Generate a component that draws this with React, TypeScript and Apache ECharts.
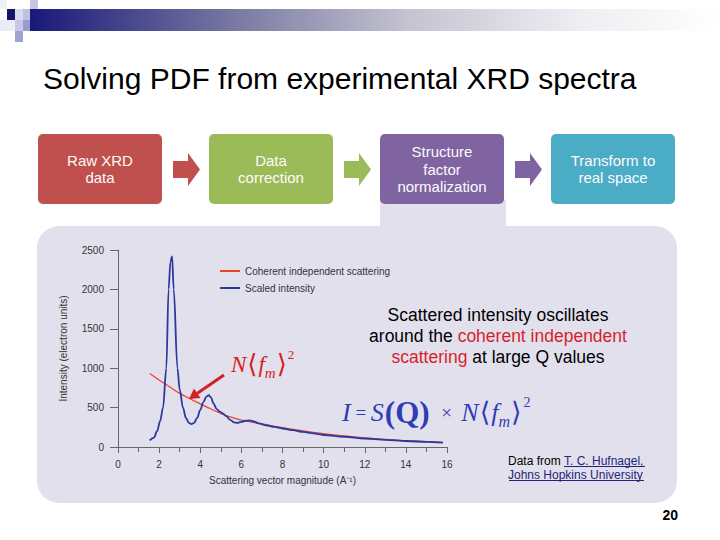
import React, { useEffect, useRef } from "react";
import * as echarts from "echarts";

// Scaled intensity (blue)
const qBlue = [1.54, 1.75, 1.9, 2.05, 2.19, 2.35, 2.46, 2.55, 2.63, 2.71, 2.89, 3.0, 3.16, 3.3, 3.45, 3.57, 3.7, 3.85, 4.0, 4.15, 4.3, 4.41, 4.52, 4.65, 4.8, 4.95, 5.1, 5.25, 5.45, 5.65, 5.8, 6.0, 6.2, 6.4, 6.6, 6.85, 7.2, 7.6, 8.0, 8.5, 9.0, 9.5, 10, 11, 12, 13, 14, 15, 15.8];
const vBlue = [85, 120, 200, 330, 500, 1000, 2000, 2350, 2420, 2000, 1000, 730, 500, 370, 305, 290, 305, 370, 470, 570, 640, 657, 630, 550, 480, 450, 425, 395, 345, 312, 305, 318, 333, 338, 325, 300, 276, 255, 235, 213, 192, 172, 152, 130, 108, 90, 76, 64, 56];

// Coherent independent scattering (red)
const qRed = [1.54, 2, 2.5, 3, 3.5, 4, 4.5, 5, 5.5, 6, 7, 8, 9, 10, 11, 12, 13, 14, 15, 15.8];
const vRed = [932, 850, 765, 680, 612, 548, 485, 425, 378, 342, 292, 245, 205, 170, 140, 115, 95, 80, 68, 58];

const seriesNames = ["Coherent independent scattering", "Scaled intensity"];
const steps = ["Raw XRD\ndata", "Data\ncorrection", "Structure\nfactor\nnormalization", "Transform to\nreal space"];
const stepColors = ["#c0504d", "#9bbb59", "#8064a2", "#4bacc6"];
const stepX = [38, 209, 380, 551];

const SANS = "Liberation Sans, Arial, sans-serif";
const SERIF = "Liberation Serif, Times New Roman, DejaVu Serif, serif";
const PANEL = "#e3e0ee";

export default function App() {
  const ref = useRef<HTMLDivElement>(null);
  useEffect(() => {
    if (!ref.current) return;
    const chart = echarts.init(ref.current, null, { renderer: "svg" });

    const g: any[] = [];
    // top decoration
    g.push({ type: "rect", shape: { x: 30, y: 9, width: 690, height: 22 }, style: { fill: new echarts.graphic.LinearGradient(0, 0, 1, 0, [
      { offset: 0, color: "#18187a" }, { offset: 0.3, color: "#7a7aa2" }, { offset: 0.55, color: "#c4c4d2" }, { offset: 0.8, color: "#eeeef3" }, { offset: 1, color: "#ffffff" }]) }, z: -5 });
    const sq = [
      [30, 0, 8, 9, "#c6c6e2"], [0, 0, 7, 9, "#f0f0f8"], [7, 9, 8, 11, "#15156e"], [15, 9, 8, 11, "#d8d8ee"],
      [0, 20, 15, 11, "#ececf6"], [23, 9, 7, 11, "#c0c0e0"], [23, 20, 7, 11, "#9a9acc"], [15, 20, 8, 11, "#c8c8e6"], [15, 31, 8, 11, "#a2a2d2"],
    ];
    sq.forEach((s: any) => g.push({ type: "rect", shape: { x: s[0], y: s[1], width: s[2], height: s[3] }, style: { fill: s[4] }, z: -4 }));
    // title
    g.push({ type: "text", x: 43, y: 78, style: { text: "Solving PDF from experimental XRD spectra", fontSize: 30, fontFamily: SANS, fill: "#000", verticalAlign: "middle", align: "left" } });
    // panel and tab
    g.push({ type: "rect", shape: { x: 37, y: 226, width: 640, height: 277, r: 22 }, style: { fill: PANEL }, z: -10 });
    g.push({ type: "rect", shape: { x: 380, y: 200, width: 126, height: 32 }, style: { fill: PANEL }, z: -10 });
    // boxes
    steps.forEach((t, i) => {
      g.push({ type: "rect", shape: { x: stepX[i], y: 134, width: 124, height: 70, r: 5 }, style: { fill: stepColors[i] }, z: -2 });
      g.push({ type: "text", x: stepX[i] + 62, y: 169, style: { text: t, fontSize: 15, lineHeight: 17.5, fontFamily: SANS, fill: "#fbfbfb", align: "center", verticalAlign: "middle" } });
    });
    // step arrows
    for (let i = 0; i < 3; i++) {
      const x0 = stepX[i] + 135, cy = 169.5;
      g.push({ type: "polygon", shape: { points: [[x0, cy - 8.5], [x0 + 15, cy - 8.5], [x0 + 15, cy - 16.5], [x0 + 27, cy], [x0 + 15, cy + 16.5], [x0 + 15, cy + 8.5], [x0, cy + 8.5]] }, style: { fill: stepColors[i] } });
    }
    // explanation text
    g.push({ type: "text", x: 498, y: 336, z: 10, style: {
      text: "Scattered intensity oscillates\naround the {r|coherent independent}\n{r|scattering} at large Q values",
      fontSize: 17.5, lineHeight: 21, fontFamily: SANS, fill: "#000", align: "center", verticalAlign: "middle",
      rich: { r: { fontSize: 17.5, lineHeight: 21, fontFamily: SANS, fill: "#d61f2b" } } } });
    // red formula
    g.push({ type: "text", x: 231, y: 364, z: 10, style: {
      text: "{i|N}{b|⟨}{i|f}{s|m}{b|⟩}{p|2}", fill: "#d42020", align: "left", verticalAlign: "middle",
      rich: {
        i: { fontFamily: SERIF, fontStyle: "italic", fontSize: 23, fill: "#d42020", verticalAlign: "middle", lineHeight: 32 },
        b: { fontFamily: SERIF, fontSize: 26, fill: "#d42020", verticalAlign: "middle", lineHeight: 32, padding: [0, 1, 0, 1] },
        s: { fontFamily: SERIF, fontStyle: "italic", fontSize: 15, fill: "#d42020", verticalAlign: "bottom", lineHeight: 18 },
        p: { fontFamily: SERIF, fontSize: 13, fill: "#d42020", verticalAlign: "top", lineHeight: 14 },
      } } });
    // blue formula
    g.push({ type: "text", x: 342, y: 412, z: 10, style: {
      text: "{i|I}{o| = }{i|S}{q|(Q)}{o|  ×  }{i|N}{b|⟨}{i|f}{s|m}{b|⟩}{p|2}", fill: "#2e3db5", align: "left", verticalAlign: "middle",
      rich: {
        i: { fontFamily: SERIF, fontStyle: "italic", fontSize: 26, fill: "#2e3db5", verticalAlign: "middle", lineHeight: 34 },
        o: { fontFamily: SERIF, fontSize: 19, fill: "#2e3db5", verticalAlign: "middle", lineHeight: 34 },
        q: { fontFamily: SERIF, fontWeight: "bold", fontSize: 31, fill: "#2e3db5", verticalAlign: "middle", lineHeight: 34, padding: [0, 2, 0, 1] },
        b: { fontFamily: SERIF, fontSize: 27, fill: "#2e3db5", verticalAlign: "middle", lineHeight: 34, padding: [0, 1, 0, 1] },
        s: { fontFamily: SERIF, fontStyle: "italic", fontSize: 16, fill: "#2e3db5", verticalAlign: "bottom", lineHeight: 20 },
        p: { fontFamily: SERIF, fontSize: 14, fill: "#2e3db5", verticalAlign: "top", lineHeight: 14, padding: [0, 0, 0, 1] },
      } } });
    // red annotation arrow
    g.push({ type: "line", shape: { x1: 224, y1: 375, x2: 197, y2: 393.5 }, style: { stroke: "#d42020", lineWidth: 3 }, z: 10 });
    g.push({ type: "polygon", shape: { points: [[189, 399], [200.5, 398], [194, 388.5]] }, style: { fill: "#d42020" }, z: 10 });
    // data source
    g.push({ type: "text", x: 508, y: 468, z: 10, style: {
      text: "Data from {l|T. C. Hufnagel,}\n{l|Johns Hopkins University}", fontSize: 12, lineHeight: 14, fontFamily: SANS, fill: "#000", align: "left", verticalAlign: "middle",
      rich: { l: { fontSize: 12, lineHeight: 14, fontFamily: SANS, fill: "#22237a" } } } });
    g.push({ type: "line", shape: { x1: 564, y1: 466.5, x2: 645, y2: 466.5 }, style: { stroke: "#22237a", lineWidth: 1 }, z: 10 });
    g.push({ type: "line", shape: { x1: 509, y1: 480.5, x2: 644, y2: 480.5 }, style: { stroke: "#22237a", lineWidth: 1 }, z: 10 });
    // slide number
    g.push({ type: "text", x: 678, y: 515, style: { text: "20", fontSize: 14, fontWeight: "bold", fontFamily: SANS, fill: "#000", align: "right", verticalAlign: "middle" } });

    const axisColor = "#666";
    chart.setOption({
      animation: false,
      backgroundColor: "#ffffff",
      graphic: { elements: g },
      grid: { left: 118, right: 273, top: 250, bottom: 93, containLabel: false },
      legend: {
        orient: "vertical", left: 220, top: 265, padding: 0, itemWidth: 20, itemHeight: 2, itemGap: 5, icon: "rect",
        textStyle: { fontSize: 10, fontFamily: SANS, color: "#333", lineHeight: 12 },
        data: seriesNames,
      },
      xAxis: {
        type: "value", min: 0, max: 16, interval: 2,
        name: "Scattering vector magnitude (A⁻¹)", nameLocation: "middle", nameGap: 28,
        nameTextStyle: { fontSize: 10, fontFamily: SANS, color: "#333" },
        axisLine: { show: true, lineStyle: { color: axisColor } },
        axisTick: { show: true, length: 6, lineStyle: { color: axisColor } },
        minorTick: { show: true, splitNumber: 2, length: 5, lineStyle: { color: axisColor } },
        axisLabel: { fontSize: 10, fontFamily: SANS, color: "#333", margin: 12 },
        splitLine: { show: false },
      },
      yAxis: {
        type: "value", min: 0, max: 2500, interval: 500,
        name: "Intensity (electron units)", nameLocation: "middle", nameGap: 50, nameRotate: 90,
        nameTextStyle: { fontSize: 10, fontFamily: SANS, color: "#333" },
        axisLine: { show: true, lineStyle: { color: axisColor } },
        axisTick: { show: true, length: 8, lineStyle: { color: axisColor } },
        axisLabel: { fontSize: 10, fontFamily: SANS, color: "#333", margin: 14, formatter: (v: number) => String(v) },
        splitLine: { show: false },
      },
      series: [
        {
          name: seriesNames[0], type: "line", data: qRed.map((q, i) => [q, vRed[i]]),
          smooth: 0.4, showSymbol: false, symbol: "none", lineStyle: { color: "#e8452c", width: 1.3 }, itemStyle: { color: "#e8452c" }, z: 2,
        },
        {
          name: seriesNames[1], type: "line", data: qBlue.map((q, i) => [q, vBlue[i]]),
          smooth: 0.35, smoothMonotone: "x", showSymbol: false, symbol: "none", lineStyle: { color: "#2a3a9c", width: 1.8 }, itemStyle: { color: "#2a3a9c" }, z: 3,
        },
      ],
    });
    return () => chart.dispose();
  }, []);
  return <div ref={ref} style={{ position: "absolute", left: 0, top: 0, width: 720, height: 540 }} />;
}
